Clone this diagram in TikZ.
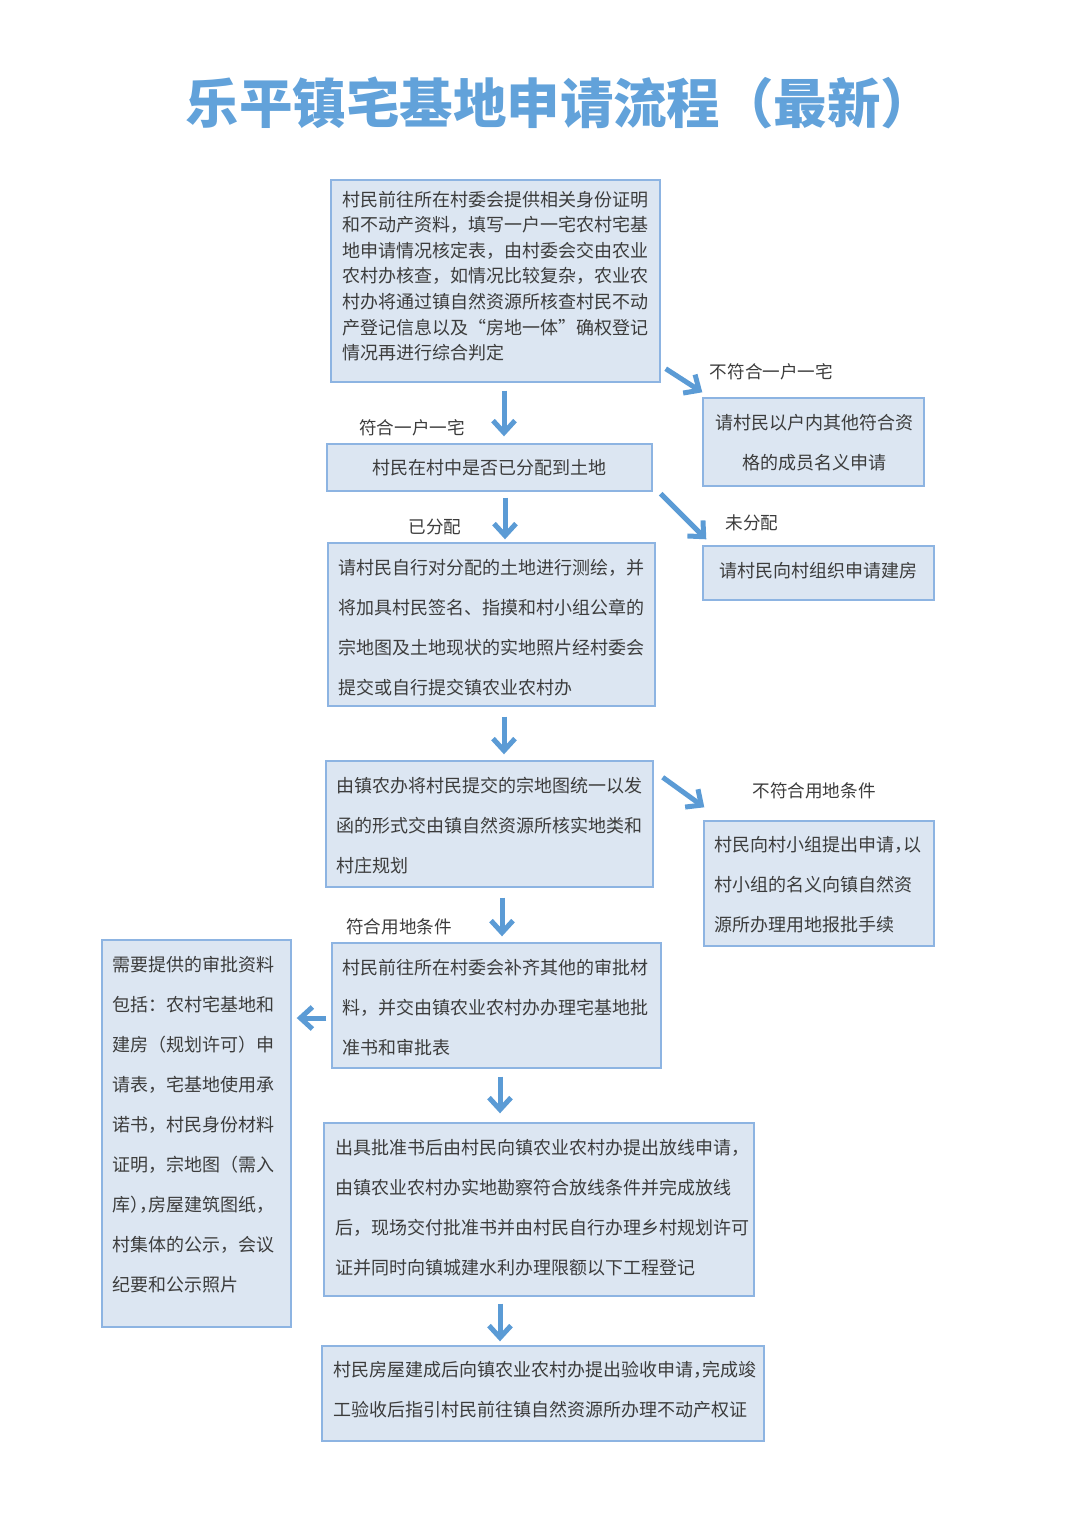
\documentclass[tikz,border=0pt]{standalone}
\usepackage{fontspec}
\setmainfont{Noto Sans CJK SC}
\usetikzlibrary{arrows.meta}
\definecolor{boxfill}{HTML}{DCE6F2}
\definecolor{boxline}{HTML}{8DB4E2}
\definecolor{arrowc}{HTML}{5B9BD5}
\definecolor{titlec}{HTML}{62A2DA}
\definecolor{txtc}{HTML}{3C3C3C}
\newcommand\fwq[1]{{\addfontfeature{RawFeature=+fwid}#1}}
\newcommand\hw[1]{{\addfontfeature{RawFeature=+halt}#1}}
\begin{document}
\begin{tikzpicture}[x=1pt,y=-1pt,
  box/.style={draw=boxline, fill=boxfill, line width=1.4pt, inner sep=0pt},
  txt/.style={inner sep=0pt, text=txtc, align=left, font=\fontsize{18pt}{40pt}\selectfont},
  txtc/.style={inner sep=0pt, text=txtc, align=center, font=\fontsize{18pt}{40pt}\selectfont},
  txtd/.style={inner sep=0pt, text=txtc, align=left, font=\fontsize{18pt}{25.6pt}\selectfont},
  lbl/.style={inner sep=0pt, text=txtc, font=\fontsize{17.6pt}{20pt}\selectfont},
  arr/.style={draw=arrowc, line width=5pt, -{Straight Barb[length=12pt,width=22pt]}}
]
\useasboundingbox (0,0) rectangle (1080,1527);

% title
\node[font=\fontsize{53.5pt}{60pt}\selectfont\bfseries, text=titlec, inner sep=0pt] (title) at (560,103) {乐平镇宅基地申请流程（最新）};

% boxes
\node[box, minimum width=329pt, minimum height=202pt] (b1) at (495.5,281) {};
\node[box, minimum width=325pt, minimum height=47pt] (b2) at (489.5,467.5) {};
\node[box, minimum width=221pt, minimum height=88pt] (b3) at (813.5,442) {};
\node[box, minimum width=231pt, minimum height=54pt] (b4) at (818.5,573) {};
\node[box, minimum width=327pt, minimum height=163pt] (b5) at (491.5,624.5) {};
\node[box, minimum width=327pt, minimum height=126pt] (b6) at (489.5,824) {};
\node[box, minimum width=230pt, minimum height=125pt] (b7) at (819,883.5) {};
\node[box, minimum width=329pt, minimum height=125pt] (b8) at (496.5,1005.5) {};
\node[box, minimum width=189pt, minimum height=387pt] (b9) at (196.5,1133.5) {};
\node[box, minimum width=430pt, minimum height=173pt] (b10) at (539,1209.5) {};
\node[box, minimum width=442pt, minimum height=95pt] (b11) at (543,1393.5) {};

% texts
\node[txtd, anchor=west] (t1) at (342,276) {村民前往所在村委会提供相关身份证明\\和不动产资料，填写一户一宅农村宅基\\地申请情况核定表，由村委会交由农业\\农村办核查，如情况比较复杂，农业农\\村办将通过镇自然资源所核查村民不动\\产登记信息以及\fwq{“}房地一体\fwq{”}确权登记\\情况再进行综合判定};
\node[txtc] (t2) at (489.5,468) {村民在村中是否已分配到土地};
\node[txtc] (t3) at (814,443) {请村民以户内其他符合资\\格的成员名义申请};
\node[txtc] (t4) at (818,571) {请村民向村组织申请建房};
\node[txt, anchor=west] (t5) at (338,628) {请村民自行对分配的土地进行测绘，并\\将加具村民签名、指摸和村小组公章的\\宗地图及土地现状的实地照片经村委会\\提交或自行提交镇农业农村办};
\node[txt, anchor=west] (t6) at (336,826) {由镇农办将村民提交的宗地图统一以发\\函的形式交由镇自然资源所核实地类和\\村庄规划};
\node[txt, anchor=west] (t7) at (714,885) {村民向村小组提出申请\hw{，}以\\村小组的名义向镇自然资\\源所办理用地报批手续};
\node[txt, anchor=west] (t8) at (342,1008) {村民前往所在村委会补齐其他的审批材\\料，并交由镇农业农村办办理宅基地批\\准书和审批表};
\node[txt, anchor=west] (t9) at (112,1125) {需要提供的审批资料\\包括：农村宅基地和\\建房（规划许可）申\\请表，宅基地使用承\\诺书，村民身份材料\\证明，宗地图（需入\\库\hw{），}房屋建筑图纸\hw{，}\\村集体的公示，会议\\纪要和公示照片};
\node[txt, anchor=west] (t10) at (335,1208) {出具批准书后由村民向镇农业农村办提出放线申请，\\由镇农业农村办实地勘察符合放线条件并完成放线\\后，现场交付批准书并由村民自行办理乡村规划许可\\证并同时向镇城建水利办理限额以下工程登记};
\node[txt, anchor=west] (t11) at (333,1390) {村民房屋建成后向镇农业农村办提出验收申请\hw{，}完成竣\\工验收后指引村民前往镇自然资源所办理不动产权证};

% labels
\node[lbl] (l1) at (771.5,372) {不符合一户一宅};
\node[lbl] (l2) at (412,428) {符合一户一宅};
\node[lbl] (l3) at (435,527) {已分配};
\node[lbl] (l4) at (752,523) {未分配};
\node[lbl] (l5) at (814,791) {不符合用地条件};
\node[lbl] (l6) at (399,927) {符合用地条件};

% arrows
\draw[arr] ([shift={(8.5,8)}]b1.south) -- ([shift={(14.5,-7)}]b2.north);
\draw[arr] ([shift={(5,-14)}]b1.south east) -- ([shift={(0,-5)}]b3.north west);
\draw[arr] ([shift={(15.5,6)}]b2.south) -- ([shift={(13.5,-3)}]b5.north);
\draw[arr] ([shift={(8,2)}]b2.south east) -- ([shift={(4,-6)}]b4.north west);
\draw[arr] ([shift={(12.5,10)}]b5.south) -- ([shift={(14.5,-6)}]b6.north);
\draw[arr] ([shift={(9,17)}]b6.north east) -- ([shift={(1,-13)}]b7.north west);
\draw[arr] ([shift={(12.5,10)}]b6.south) -- ([shift={(5.5,-6)}]b8.north);
\draw[arr] ([shift={(-5,12.5)}]b8.west) -- ([shift={(5,-115.5)}]b9.east);
\draw[arr] ([shift={(3.5,8)}]b8.south) -- ([shift={(-39,-9)}]b10.north);
\draw[arr] ([shift={(-39,7)}]b10.south) -- ([shift={(-43,-4)}]b11.north);
\end{tikzpicture}
\end{document}
